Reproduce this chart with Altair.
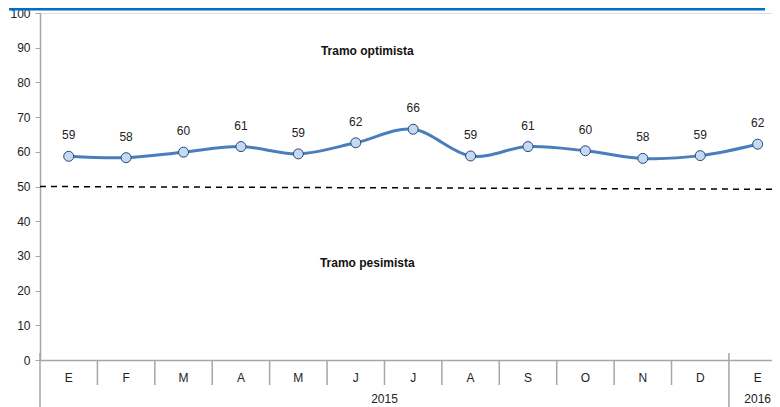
import altair as alt
import pandas as pd

# Monthly index readings (labels as printed, positions as plotted)
months = ["E", "F", "M", "A", "M", "J", "J", "A", "S", "O", "N", "D", "E"]
years = ["2015"] * 12 + ["2016"]
values = [58.7, 58.3, 59.9, 61.5, 59.4, 62.6, 66.5, 58.8, 61.5, 60.3, 58.1, 58.9, 62.2]
labels = [59, 58, 60, 61, 59, 62, 66, 59, 61, 60, 58, 59, 62]

# Neutral line (slightly sloped in the original)
threshold_x = [0, 12.75]
threshold_y = [50, 49.2]

# Zone annotations
zone_text = ["Tramo optimista", "Tramo pesimista"]
zone_x = [5.7, 5.7]
zone_y = [89, 27.9]

FONT = "Liberation Sans"
LINE_BLUE = "#4a7ebb"
AXIS_GREY = "#a6a6a6"

df = pd.DataFrame({
    "pos": [i + 0.5 for i in range(len(months))],
    "month": months,
    "year": years,
    "value": values,
    "label": [str(v) for v in labels],
})

idx = pd.DataFrame({"i": range(len(years)), "year": years})
yr = idx.groupby("year")["i"].agg(["min", "max"]).reset_index()
yr["mid"] = (yr["min"] + yr["max"] + 1) / 2
year_starts = yr["min"].tolist()

bounds = list(range(1, len(months)))
month_seps = pd.DataFrame({"b": [b for b in bounds if b not in year_starts]})
year_seps = pd.DataFrame({"b": [0] + [b for b in bounds if b in year_starts]})

# last month band is cut off at the right edge, as in the source
x_scale = alt.Scale(domain=[0, 12.75], nice=False, zero=False)
y_scale = alt.Scale(domain=[0, 100], nice=False, zero=False)
x_axis = alt.Axis(labels=False, ticks=False, title=None, grid=False,
                  domainColor=AXIS_GREY, domainWidth=1.5)
y_axis = alt.Axis(values=list(range(0, 101, 10)), title=None, grid=False,
                  domainColor=AXIS_GREY, domainWidth=1.5, tickColor=AXIS_GREY,
                  tickSize=5, labelPadding=5, labelFont=FONT, labelFontSize=12,
                  labelColor="#222222", labelOverlap=False)


def X(field):
    return alt.X(field, scale=x_scale, axis=x_axis)


def Y(field):
    return alt.Y(field, scale=y_scale, axis=y_axis)


base = alt.Chart(df)

line = base.mark_line(color=LINE_BLUE, strokeWidth=3, interpolate="cardinal").encode(
    x=X("pos:Q"), y=Y("value:Q"))

points = base.mark_point(filled=True, fill="#c6d9f1", stroke="#1f497d",
                         strokeWidth=1, size=100, opacity=1).encode(
    x=X("pos:Q"), y=Y("value:Q"))

point_labels = base.mark_text(font=FONT, fontSize=12, color="#222222", dy=-21).encode(
    x=X("pos:Q"), y=Y("value:Q"), text="label:N")

month_text = base.mark_text(font=FONT, fontSize=12, color="#222222", baseline="middle").encode(
    x=X("pos:Q"), y=alt.value(365), text="month:N")

year_text = alt.Chart(yr).mark_text(font=FONT, fontSize=12, color="#222222",
                                    baseline="middle").encode(
    x=X("mid:Q"), y=alt.value(386), text="year:N")

month_rules = alt.Chart(month_seps).mark_rule(color=AXIS_GREY, strokeWidth=1.5).encode(
    x=X("b:Q"), y=alt.value(347), y2=alt.value(372))

year_rules = alt.Chart(year_seps).mark_rule(color=AXIS_GREY, strokeWidth=1.5).encode(
    x=X("b:Q"), y=alt.value(340), y2=alt.value(398))

thr = alt.Chart(pd.DataFrame({"x": threshold_x, "y": threshold_y})).mark_line(
    color="black", strokeWidth=1.5, strokeDash=[6, 5]).encode(x=X("x:Q"), y=Y("y:Q"))

zones = alt.Chart(pd.DataFrame({"t": zone_text, "x": zone_x, "y": zone_y})).mark_text(
    font=FONT, fontSize=12, fontWeight="bold", color="#111111").encode(
    x=X("x:Q"), y=Y("y:Q"), text="t:N")

top_bar = alt.Chart(pd.DataFrame({"b": [0]})).mark_rule(
    color="#0070c0", strokeWidth=3).encode(
    x=alt.value(-31), x2=alt.value(725), y=alt.value(-4))

chart = alt.layer(
    line, thr, month_rules, year_rules, points, point_labels,
    month_text, year_text, zones, top_bar,
).properties(
    width=732, height=347,
    autosize=alt.AutoSizeParams(type="none"),
    padding={"left": 32, "top": 5, "right": 0, "bottom": 47},
).configure_view(stroke=None).configure(background="white")

chart.save("out.html", embed_options={"renderer": "svg", "actions": False})
